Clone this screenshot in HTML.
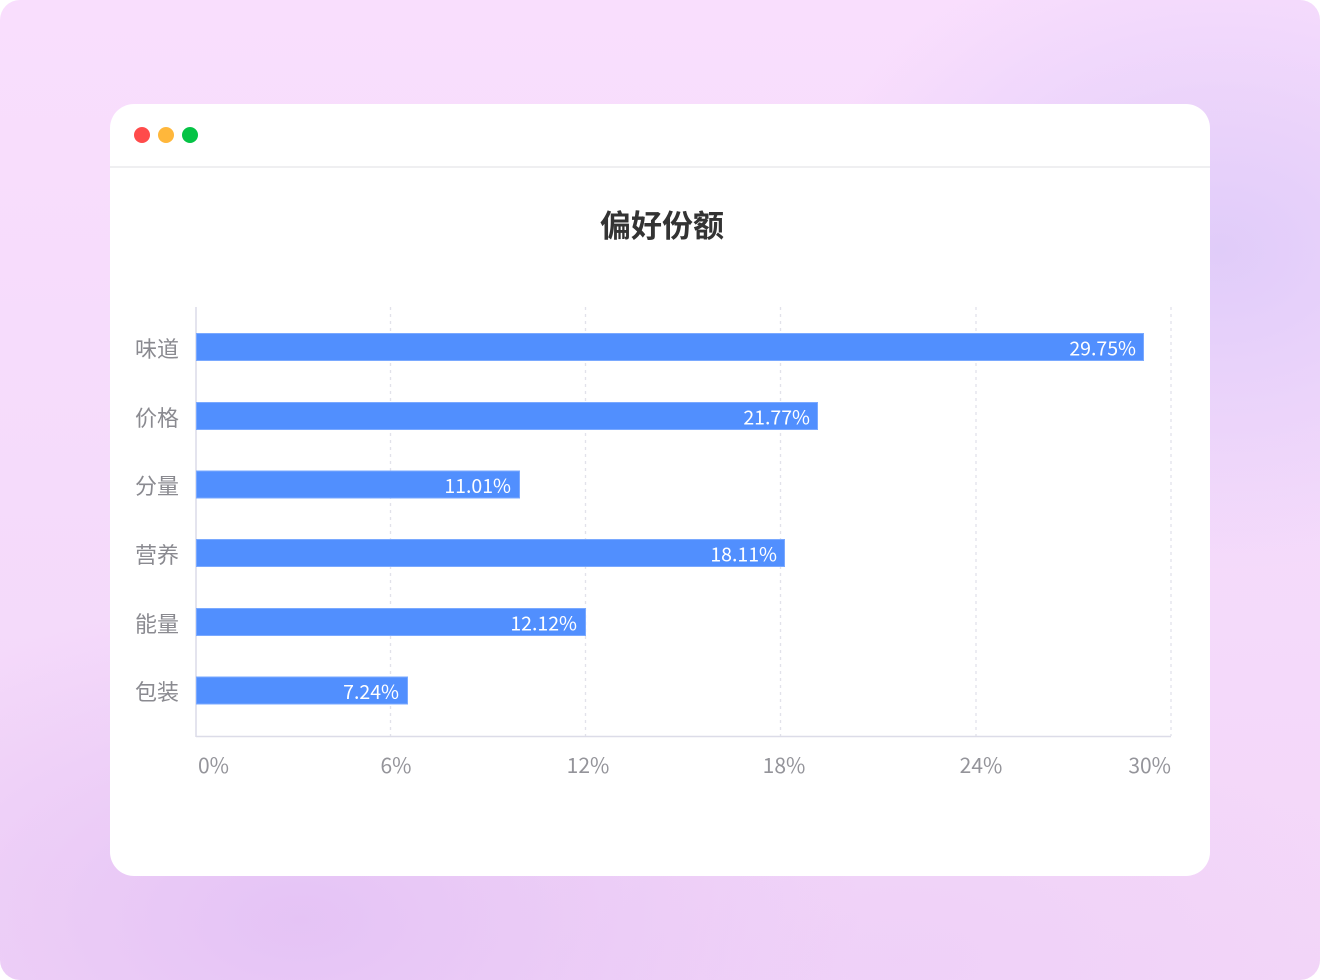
<!DOCTYPE html>
<html><head><meta charset="utf-8">
<style>
html,body{margin:0;padding:0;width:1320px;height:980px;overflow:hidden;background:#fff;}
.bg{position:absolute;left:0;top:0;width:1320px;height:980px;border-radius:20px;overflow:hidden;
background:
radial-gradient(ellipse 420px 320px at 1220px 250px, rgba(223,203,249,0.95), rgba(223,203,249,0) 100%),
radial-gradient(ellipse 560px 320px at 300px 920px, rgba(228,194,245,0.95), rgba(228,194,245,0) 100%),
radial-gradient(ellipse 500px 260px at 900px 960px, rgba(236,205,247,0.6), rgba(236,205,247,0) 100%),
linear-gradient(180deg,#f9defd 0%,#f5dbfb 50%,#f3d6f8 100%);}
.card{position:absolute;left:110px;top:104px;width:1100px;height:772px;background:#fff;border-radius:24px;overflow:hidden;}
.hdr{position:absolute;left:0;top:62px;width:1100px;height:2px;background:#efeff1;}
.dot{position:absolute;top:23px;width:16px;height:16px;border-radius:50%;}
svg{position:absolute;left:0;top:0;}
</style></head>
<body>
<div class="bg"></div>
<div class="card">
  <div class="dot" style="left:24px;background:#ff4b4b"></div>
  <div class="dot" style="left:48px;background:#ffb73b"></div>
  <div class="dot" style="left:72px;background:#05c345"></div>
  <div class="hdr"></div>
</div>
<svg width="1320" height="980" xmlns="http://www.w3.org/2000/svg" font-family="'Liberation Sans','Noto Sans CJK SC',sans-serif">
  <text x="662" y="237" text-anchor="middle" font-size="31" font-weight="bold" fill="#333" font-family="'Noto Sans CJK SC',sans-serif">偏好份额</text>
  <g stroke="#e2e2ea" stroke-width="1.3" stroke-dasharray="3 4">
    <line x1="390.5" y1="307" x2="390.5" y2="736"/>
    <line x1="585.5" y1="307" x2="585.5" y2="736"/>
    <line x1="780.5" y1="307" x2="780.5" y2="736"/>
    <line x1="976" y1="307" x2="976" y2="736"/>
    <line x1="1171" y1="307" x2="1171" y2="736"/>
  </g>
  <line x1="196" y1="307" x2="196" y2="737" stroke="#dcdce8" stroke-width="1.5"/>
  <line x1="196" y1="736.5" x2="1171" y2="736.5" stroke="#dcdce8" stroke-width="1.5"/>
  <g fill="#518ffe" stroke="#7aa9ff" stroke-width="1">
    <rect x="196.5" y="333.5" width="947" height="27"/>
    <rect x="196.5" y="402.5" width="621" height="27"/>
    <rect x="196.5" y="471" width="323" height="27"/>
    <rect x="196.5" y="539.5" width="588" height="27"/>
    <rect x="196.5" y="608.5" width="389" height="27"/>
    <rect x="196.5" y="677" width="211" height="27"/>
  </g>
  <g fill="#fff" font-size="19.5" text-anchor="end" font-family="'Noto Sans CJK SC',sans-serif">
    <text x="1136" y="355.5">29.75%</text>
    <text x="810" y="424.5">21.77%</text>
    <text x="511" y="493">11.01%</text>
    <text x="777" y="561.5">18.11%</text>
    <text x="577" y="630.5">12.12%</text>
    <text x="399" y="699">7.24%</text>
  </g>
  <g fill="#8a8a90" font-size="22" text-anchor="end" font-family="'Noto Sans CJK SC',sans-serif" dominant-baseline="central">
    <text x="179" y="348">味道</text>
    <text x="179" y="417">价格</text>
    <text x="179" y="485">分量</text>
    <text x="179" y="554">营养</text>
    <text x="179" y="623">能量</text>
    <text x="179" y="691">包装</text>
  </g>
  <g fill="#94949a" font-size="21" font-family="'Noto Sans CJK SC',sans-serif">
    <text x="198" y="773">0%</text>
    <text x="396" y="773" text-anchor="middle">6%</text>
    <text x="588" y="773" text-anchor="middle">12%</text>
    <text x="784" y="773" text-anchor="middle">18%</text>
    <text x="981" y="773" text-anchor="middle">24%</text>
    <text x="1171" y="773" text-anchor="end">30%</text>
  </g>
</svg>
</body></html>
